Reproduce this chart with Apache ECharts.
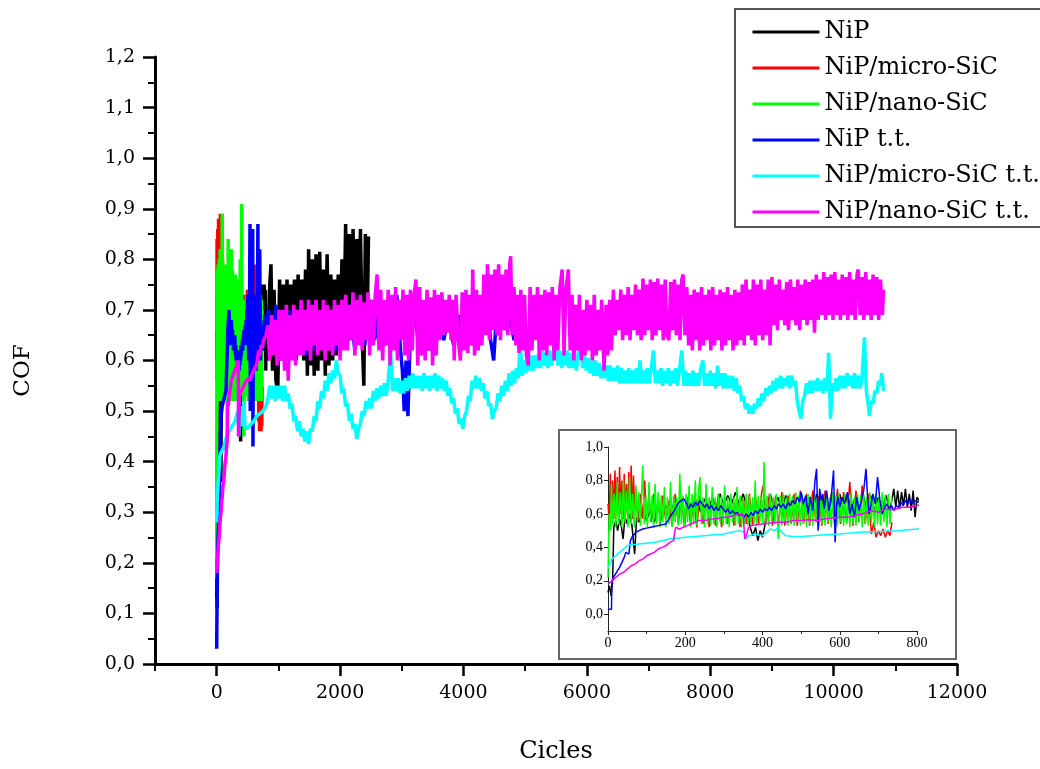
<!DOCTYPE html>
<html><head><meta charset="utf-8">
<script src="https://cdn.jsdelivr.net/npm/echarts@6/dist/echarts.min.js"></script>
<style>html,body{margin:0;padding:0;background:#fff}#c{width:1040px;height:769px}</style>
</head><body><div id="c"></div>
<script>
// ---------- data (cycles, COF) ----------
const seriesNames = ['NiP', 'NiP/micro-SiC', 'NiP/nano-SiC', 'NiP t.t.', 'NiP/micro-SiC t.t.', 'NiP/nano-SiC t.t.'];
const seriesColors = ['#000000', '#ff0000', '#00ff00', '#0000ff', '#00ffff', '#ff00ff'];
const xMajorTicks = [0, 2000, 4000, 6000, 8000, 10000, 12000];
const xMinorTicks = [-1000, 1000, 3000, 5000, 7000, 9000, 11000];
const insetYTicks = [0, 0.2, 0.4, 0.6, 0.8, 1.0];

const nip = [[0,0.13],[4,0.17],[8,0.11],[12,0.2],[15,0.52],[20,0.56],[25,0.5],[30,0.57],[35,0.52],[39,0.45],[44,0.58],[50,0.54],[56,0.6],[62,0.53],[69,0.36],[74,0.58],[80,0.55],[90,0.62],[100,0.56],[110,0.63],[120,0.55],[130,0.64],[140,0.57],[150,0.65],[160,0.58],[170,0.66],[180,0.59],[190,0.67],[200,0.6],[210,0.67],[220,0.6],[230,0.68],[240,0.61],[250,0.69],[260,0.62],[270,0.7],[280,0.64],[290,0.72],[300,0.65],[310,0.71],[320,0.66],[330,0.73],[340,0.65],[350,0.72],[360,0.64],[368,0.52],[375,0.47],[382,0.52],[388,0.44],[394,0.5],[400,0.46],[406,0.53],[412,0.65],[420,0.72],[430,0.64],[440,0.7],[450,0.62],[460,0.71],[470,0.63],[480,0.7],[490,0.62],[500,0.72],[510,0.63],[520,0.7],[530,0.61],[540,0.72],[550,0.63],[560,0.71],[570,0.62],[580,0.7],[590,0.63],[600,0.72],[610,0.62],[620,0.71],[630,0.63],[640,0.7],[650,0.62],[660,0.72],[670,0.63],[680,0.71],[690,0.62],[700,0.7],[710,0.63],[720,0.71],[730,0.62],[740,0.75],[745,0.64],[750,0.74],[755,0.63],[760,0.73],[765,0.65],[770,0.75],[775,0.64],[780,0.72],[785,0.62],[790,0.74],[795,0.58],[800,0.7],
[830,0.6],[860,0.75],[880,0.79],[905,0.58],[930,0.74],[960,0.56],[990,0.54],[1020,0.76],[1050,0.6],[1080,0.75],[1110,0.62],[1140,0.76],[1170,0.6],[1200,0.75],[1230,0.61],[1260,0.76],[1290,0.6],[1320,0.77],[1350,0.62],[1380,0.76],[1410,0.6],[1440,0.78],[1470,0.57],[1490,0.82],[1520,0.59],[1550,0.8],[1580,0.57],[1610,0.81],[1640,0.58],[1670,0.815],[1700,0.6],[1730,0.78],[1760,0.57],[1790,0.81],[1820,0.59],[1850,0.77],[1880,0.6],[1910,0.76],[1940,0.61],[1970,0.77],[2000,0.62],[2030,0.8],[2060,0.64],[2090,0.87],[2120,0.65],[2150,0.85],[2180,0.64],[2210,0.86],[2240,0.66],[2270,0.84],[2300,0.65],[2330,0.86],[2360,0.64],[2385,0.55],[2410,0.85],[2440,0.66],[2460,0.845]];

const nipMicro = [[0,0.66],[3,0.56],[6,0.84],[9,0.6],[12,0.8],[15,0.57],[18,0.86],[21,0.62],[24,0.82],[27,0.56],[30,0.88],[33,0.6],[36,0.8],[39,0.57],[42,0.84],[45,0.6],[48,0.78],[51,0.56],[54,0.85],[57,0.62],[60,0.89],[63,0.57],[66,0.83],[69,0.6],[72,0.75],[78,0.56],[84,0.72],[90,0.57],[95,0.8],[100,0.56],[106,0.7],[112,0.55],[118,0.72],[124,0.56],[130,0.69],[136,0.54],[142,0.71],[150,0.55],[158,0.68],[166,0.53],[174,0.72],[182,0.54],[190,0.69],[198,0.52],[206,0.7],[214,0.53],[222,0.68],[230,0.52],[238,0.71],[246,0.54],[254,0.69],[262,0.52],[270,0.7],[278,0.53],[286,0.72],[294,0.52],[302,0.7],[310,0.54],[318,0.69],[326,0.53],[334,0.71],[342,0.52],[350,0.7],[358,0.54],[366,0.72],[374,0.53],[382,0.7],[390,0.54],[398,0.73],[402,0.77],[410,0.55],[418,0.72],[426,0.53],[434,0.71],[442,0.54],[450,0.73],[458,0.53],[466,0.71],[474,0.54],[482,0.72],[490,0.53],[498,0.74],[506,0.54],[514,0.72],[522,0.53],[530,0.74],[538,0.55],[546,0.71],[554,0.53],[562,0.74],[570,0.54],[578,0.72],[586,0.55],[594,0.75],[602,0.54],[610,0.73],[618,0.55],[626,0.79],[634,0.53],[642,0.74],[650,0.55],[658,0.77],[666,0.54],[674,0.72],[682,0.48],[688,0.55],[694,0.46],[700,0.5],[706,0.47],[712,0.51],[718,0.46],[724,0.5],[730,0.47],[735,0.55]];

const nipNano = [[0,0.22],[3,0.6],[6,0.5],[9,0.78],[12,0.53],[16,0.72],[20,0.52],[24,0.79],[28,0.54],[32,0.73],[36,0.52],[40,0.8],[44,0.55],[48,0.74],[52,0.52],[56,0.82],[60,0.54],[64,0.72],[68,0.52],[72,0.77],[76,0.55],[80,0.73],[84,0.53],[90,0.89],[94,0.54],[98,0.7],[102,0.52],[106,0.79],[110,0.55],[114,0.71],[118,0.52],[122,0.78],[126,0.54],[130,0.73],[134,0.52],[138,0.71],[142,0.55],[146,0.76],[150,0.52],[154,0.7],[158,0.54],[162,0.79],[166,0.52],[170,0.71],[174,0.55],[178,0.7],[182,0.53],[186,0.84],[190,0.54],[194,0.71],[198,0.52],[202,0.72],[206,0.55],[210,0.77],[214,0.52],[218,0.72],[222,0.54],[226,0.8],[230,0.53],[234,0.72],[238,0.82],[242,0.54],[246,0.7],[250,0.52],[254,0.78],[258,0.54],[262,0.7],[266,0.53],[270,0.76],[274,0.54],[278,0.7],[282,0.52],[286,0.72],[290,0.55],[294,0.71],[298,0.53],[302,0.77],[306,0.54],[310,0.7],[314,0.52],[318,0.72],[322,0.55],[326,0.7],[330,0.53],[334,0.76],[338,0.54],[342,0.71],[346,0.52],[350,0.7],[354,0.54],[358,0.72],[362,0.53],[366,0.71],[370,0.55],[374,0.7],[378,0.54],[381,0.8],[385,0.53],[389,0.71],[393,0.55],[397,0.7],[401,0.54],[404,0.91],[408,0.55],[412,0.71],[416,0.53],[420,0.72],[424,0.55],[428,0.7],[432,0.54],[436,0.72],[441,0.45],[446,0.71],[450,0.53],[454,0.72],[458,0.55],[462,0.7],[466,0.53],[470,0.72],[474,0.54],[478,0.71],[482,0.53],[486,0.73],[490,0.55],[494,0.71],[498,0.53],[502,0.72],[506,0.54],[510,0.7],[514,0.52],[518,0.72],[522,0.54],[526,0.71],[530,0.53],[534,0.73],[538,0.55],[542,0.7],[546,0.52],[550,0.72],[554,0.54],[558,0.71],[562,0.53],[566,0.72],[570,0.55],[574,0.7],[578,0.52],[582,0.73],[586,0.54],[590,0.71],[594,0.53],[598,0.72],[602,0.55],[606,0.7],[610,0.53],[614,0.72],[618,0.54],[622,0.71],[626,0.52],[630,0.73],[634,0.54],[638,0.7],[642,0.53],[646,0.72],[650,0.55],[654,0.71],[658,0.52],[662,0.72],[666,0.54],[670,0.7],[674,0.53],[678,0.73],[682,0.55],[686,0.71],[690,0.52],[694,0.72],[698,0.54],[702,0.7],[706,0.53],[710,0.73],[714,0.55],[718,0.71],[722,0.52],[726,0.72],[730,0.54],[735,0.7]];

const nipTT = [[0,0.03],[5,0.03],[9,0.03],[10,0.2],[14,0.22],[18,0.23],[22,0.25],[26,0.26],[30,0.28],[34,0.3],[38,0.31],[42,0.34],[46,0.37],[50,0.38],[54,0.36],[58,0.44],[62,0.46],[66,0.47],[72,0.49],[80,0.5],[90,0.51],[100,0.515],[110,0.52],[120,0.525],[130,0.53],[140,0.535],[150,0.54],[155,0.56],[160,0.58],[166,0.6],[172,0.62],[178,0.65],[184,0.67],[190,0.68],[196,0.69],[200,0.7],[204,0.66],[208,0.63],[214,0.66],[220,0.64],[226,0.67],[232,0.65],[238,0.68],[244,0.66],[250,0.64],[256,0.66],[262,0.63],[268,0.65],[274,0.62],[280,0.64],[286,0.62],[292,0.65],[298,0.63],[304,0.61],[310,0.63],[316,0.6],[322,0.62],[328,0.6],[334,0.61],[340,0.59],[346,0.6],[352,0.58],[358,0.6],[364,0.58],[370,0.61],[376,0.59],[382,0.62],[388,0.6],[394,0.63],[400,0.61],[406,0.63],[412,0.62],[418,0.64],[424,0.62],[430,0.65],[436,0.63],[442,0.66],[448,0.64],[454,0.66],[460,0.63],[466,0.67],[472,0.65],[478,0.68],[484,0.66],[490,0.7],[496,0.67],[500,0.73],[506,0.66],[512,0.71],[518,0.6],[524,0.7],[530,0.62],[536,0.8],[540,0.87],[544,0.5],[548,0.75],[552,0.68],[556,0.72],[560,0.63],[566,0.74],[572,0.62],[578,0.7],[584,0.86],[588,0.43],[592,0.66],[596,0.7],[600,0.64],[606,0.7],[612,0.66],[620,0.73],[626,0.6],[632,0.66],[638,0.58],[644,0.7],[650,0.62],[656,0.68],[662,0.74],[668,0.87],[672,0.7],[676,0.6],[680,0.64],[686,0.72],[692,0.66],[698,0.82],[704,0.68],[710,0.6],[716,0.64],[722,0.66],[728,0.63],[734,0.65],[740,0.62],[746,0.65],[752,0.64],[758,0.67],[764,0.65],[770,0.68],[776,0.66],[782,0.69],[788,0.66],[794,0.68],[800,0.67],
[840,0.7],[900,0.63],[960,0.71],[1020,0.62],[1080,0.69],[1140,0.61],[1200,0.7],[1280,0.62],[1360,0.69],[1440,0.61],[1520,0.7],[1600,0.62],[1680,0.68],[1760,0.61],[1840,0.69],[1920,0.62],[2000,0.7],[2080,0.63],[2160,0.71],[2240,0.62],[2320,0.7],[2400,0.63],[2480,0.72],[2560,0.64],[2640,0.71],[2720,0.63],[2800,0.72],[2880,0.64],[2920,0.73],[2980,0.62],[3010,0.58],[3040,0.5],[3070,0.6],[3100,0.49],[3130,0.62],[3200,0.7],[3280,0.63],[3360,0.71],[3440,0.62],[3520,0.7],[3600,0.71],[3680,0.64],[3760,0.69],[3840,0.63],[3920,0.69],[4000,0.64],[4080,0.7],[4160,0.63],[4240,0.7],[4340,0.66],[4400,0.69],[4440,0.64],[4490,0.6],[4530,0.68],[4580,0.65],[4640,0.69],[4700,0.66],[4760,0.68],[4820,0.64],[4880,0.66],[4950,0.63],[5030,0.63],[5100,0.66],[5200,0.65]];

const nipMicroTT = [[0,0.28],[5,0.3],[10,0.33],[20,0.35],[30,0.37],[40,0.39],[50,0.41],[60,0.415],[80,0.42],[100,0.425],[120,0.43],[140,0.44],[160,0.45],[180,0.455],[200,0.46],[225,0.465],[250,0.47],[275,0.475],[300,0.48],[320,0.49],[340,0.5],[352,0.49],[358,0.45],[365,0.47],[380,0.48],[400,0.47],[410,0.49],[420,0.51],[432,0.5],[440,0.52],[450,0.49],[460,0.47],[480,0.465],[500,0.465],[530,0.47],[560,0.475],[600,0.48],[650,0.49],[700,0.495],[750,0.5],[800,0.51],
[830,0.525],[860,0.55],[890,0.525],[920,0.55],[950,0.52],[980,0.55],[1010,0.525],[1040,0.55],[1070,0.52],[1100,0.55],[1130,0.52],[1160,0.535],[1190,0.505],[1220,0.515],[1250,0.48],[1280,0.49],[1310,0.46],[1340,0.48],[1370,0.45],[1400,0.465],[1430,0.44],[1460,0.46],[1490,0.435],[1520,0.465],[1550,0.46],[1580,0.49],[1610,0.48],[1640,0.52],[1670,0.505],[1700,0.54],[1730,0.525],[1760,0.56],[1790,0.54],[1820,0.575],[1850,0.555],[1880,0.58],[1910,0.565],[1940,0.6],[1970,0.575],[2000,0.57],[2030,0.535],[2060,0.545],[2090,0.51],[2120,0.515],[2150,0.48],[2180,0.495],[2210,0.465],[2240,0.475],[2270,0.445],[2300,0.465],[2330,0.475],[2360,0.5],[2390,0.49],[2420,0.52],[2450,0.505],[2480,0.525],[2510,0.505],[2540,0.54],[2570,0.52],[2600,0.545],[2630,0.525],[2660,0.55],[2690,0.53],[2720,0.555],[2750,0.53],[2780,0.56],[2820,0.62],[2850,0.54],[2880,0.565],[2910,0.54],[2940,0.565],[2970,0.535],[3000,0.56],[3030,0.535],[3060,0.565],[3090,0.54],[3120,0.57],[3150,0.545],[3180,0.575],[3210,0.545],[3240,0.57],[3270,0.545],[3300,0.57],[3330,0.54],[3360,0.575],[3390,0.545],[3420,0.57],[3450,0.54],[3480,0.57],[3510,0.545],[3540,0.575],[3570,0.54],[3600,0.57],[3630,0.545],[3660,0.565],[3690,0.54],[3720,0.56],[3750,0.53],[3780,0.545],[3810,0.515],[3840,0.525],[3870,0.495],[3900,0.505],[3930,0.475],[3960,0.485],[3990,0.465],[4020,0.49],[4050,0.5],[4080,0.53],[4110,0.52],[4140,0.56],[4170,0.545],[4200,0.57],[4230,0.545],[4260,0.565],[4290,0.54],[4320,0.555],[4350,0.525],[4380,0.54],[4410,0.51],[4440,0.515],[4470,0.485],[4500,0.5],[4530,0.505],[4560,0.535],[4590,0.52],[4620,0.55],[4650,0.53],[4680,0.56],[4710,0.54],[4740,0.575],[4770,0.55],[4800,0.58],[4830,0.555],[4860,0.585],[4890,0.565],[4920,0.64],[4950,0.57],[4980,0.6],[5010,0.575],[5040,0.605],[5070,0.58],[5100,0.61],[5130,0.58],[5160,0.61],[5190,0.585],[5220,0.615],[5250,0.585],[5280,0.62],[5310,0.59],[5340,0.615],[5370,0.585],[5400,0.62],[5430,0.59],[5460,0.615],[5500,0.66],[5530,0.59],[5560,0.62],[5590,0.585],[5620,0.615],[5650,0.59],[5680,0.62],[5710,0.585],[5740,0.615],[5770,0.585],[5800,0.61],[5830,0.58],[5860,0.615],[5900,0.655],[5930,0.585],[5960,0.61],[5990,0.58],[6020,0.605],[6050,0.575],[6080,0.6],[6110,0.57],[6140,0.6],[6170,0.57],[6200,0.595],[6230,0.565],[6260,0.59],[6290,0.565],[6320,0.59],[6350,0.56],[6380,0.59],[6410,0.56],[6440,0.585],[6470,0.56],[6500,0.59],[6530,0.555],[6560,0.585],[6590,0.555],[6620,0.58],[6650,0.555],[6680,0.585],[6710,0.555],[6740,0.58],[6770,0.555],[6800,0.585],[6830,0.555],[6860,0.6],[6890,0.555],[6920,0.58],[6950,0.555],[6980,0.585],[7010,0.555],[7040,0.58],[7080,0.62],[7110,0.555],[7140,0.58],[7170,0.555],[7200,0.585],[7230,0.55],[7260,0.58],[7290,0.555],[7320,0.585],[7350,0.55],[7380,0.58],[7410,0.555],[7440,0.585],[7470,0.55],[7500,0.58],[7540,0.62],[7570,0.55],[7600,0.58],[7630,0.55],[7660,0.575],[7690,0.55],[7720,0.58],[7750,0.55],[7780,0.575],[7810,0.55],[7840,0.58],[7880,0.6],[7910,0.55],[7940,0.575],[7970,0.55],[8000,0.58],[8030,0.55],[8060,0.575],[8090,0.545],[8120,0.59],[8150,0.55],[8180,0.575],[8210,0.545],[8240,0.575],[8270,0.545],[8300,0.57],[8330,0.545],[8360,0.57],[8390,0.54],[8420,0.565],[8450,0.535],[8480,0.55],[8510,0.52],[8540,0.53],[8570,0.505],[8600,0.515],[8630,0.495],[8660,0.51],[8690,0.495],[8720,0.515],[8750,0.505],[8780,0.525],[8810,0.51],[8840,0.535],[8870,0.52],[8900,0.545],[8930,0.53],[8960,0.55],[8990,0.535],[9020,0.56],[9050,0.54],[9080,0.565],[9110,0.545],[9140,0.57],[9170,0.545],[9200,0.565],[9230,0.55],[9260,0.57],[9290,0.545],[9320,0.57],[9350,0.55],[9380,0.56],[9410,0.52],[9440,0.5],[9470,0.485],[9500,0.52],[9530,0.53],[9560,0.555],[9590,0.535],[9620,0.56],[9650,0.535],[9680,0.56],[9710,0.54],[9740,0.565],[9770,0.54],[9800,0.56],[9830,0.535],[9860,0.565],[9890,0.54],[9920,0.615],[9950,0.485],[9980,0.555],[10010,0.54],[10040,0.565],[10070,0.54],[10100,0.57],[10130,0.545],[10160,0.57],[10190,0.545],[10220,0.575],[10250,0.55],[10280,0.57],[10310,0.545],[10340,0.575],[10370,0.545],[10400,0.57],[10430,0.545],[10460,0.565],[10500,0.646],[10530,0.54],[10560,0.515],[10580,0.49],[10610,0.52],[10640,0.515],[10670,0.54],[10700,0.535],[10730,0.56],[10760,0.55],[10780,0.575],[10810,0.54]];

const nipNanoTT = [[0,0.18],[5,0.19],[10,0.2],[20,0.22],[30,0.24],[40,0.25],[50,0.27],[60,0.29],[70,0.3],[80,0.32],[90,0.33],[100,0.35],[110,0.36],[120,0.37],[130,0.39],[140,0.4],[150,0.41],[160,0.43],[170,0.44],[173,0.5],[176,0.52],[185,0.51],[195,0.52],[205,0.53],[215,0.54],[225,0.55],[235,0.56],[250,0.56],[265,0.57],[280,0.57],[295,0.58],[310,0.58],[325,0.59],[340,0.595],[350,0.6],[354,0.45],[358,0.47],[364,0.52],[372,0.53],[385,0.535],[400,0.54],[420,0.545],[440,0.55],[460,0.55],[480,0.56],[500,0.56],[520,0.565],[540,0.56],[560,0.57],[580,0.575],[600,0.58],[620,0.58],[640,0.59],[660,0.6],[680,0.62],[700,0.61],[720,0.63],[740,0.625],[760,0.64],[780,0.64],[800,0.65],
[830,0.67],[860,0.6],[890,0.69],[920,0.61],[950,0.68],[980,0.59],[1010,0.7],[1040,0.6],[1070,0.7],[1100,0.58],[1130,0.71],[1160,0.56],[1190,0.69],[1220,0.6],[1250,0.71],[1280,0.59],[1310,0.7],[1340,0.61],[1370,0.72],[1400,0.61],[1430,0.7],[1460,0.62],[1490,0.72],[1520,0.6],[1550,0.71],[1580,0.63],[1610,0.72],[1640,0.61],[1670,0.7],[1700,0.62],[1730,0.72],[1760,0.6],[1790,0.71],[1820,0.62],[1850,0.7],[1880,0.61],[1910,0.72],[1940,0.63],[1970,0.71],[2000,0.6],[2030,0.72],[2060,0.62],[2090,0.73],[2120,0.62],[2150,0.71],[2180,0.64],[2210,0.735],[2240,0.61],[2270,0.72],[2300,0.63],[2330,0.73],[2360,0.62],[2390,0.715],[2420,0.64],[2450,0.735],[2480,0.61],[2510,0.72],[2540,0.63],[2570,0.73],[2600,0.77],[2630,0.62],[2660,0.74],[2690,0.6],[2720,0.72],[2750,0.63],[2780,0.74],[2810,0.59],[2840,0.73],[2870,0.62],[2900,0.745],[2930,0.6],[2960,0.72],[2990,0.64],[3020,0.74],[3050,0.61],[3080,0.73],[3110,0.6],[3140,0.74],[3170,0.62],[3200,0.73],[3230,0.76],[3260,0.59],[3290,0.745],[3320,0.61],[3350,0.72],[3380,0.6],[3410,0.74],[3440,0.62],[3470,0.725],[3500,0.59],[3530,0.74],[3560,0.61],[3590,0.73],[3620,0.64],[3650,0.735],[3680,0.65],[3710,0.72],[3740,0.655],[3770,0.73],[3800,0.64],[3830,0.72],[3850,0.6],[3880,0.73],[3910,0.65],[3950,0.6],[3980,0.735],[4010,0.62],[4040,0.74],[4070,0.615],[4100,0.73],[4130,0.63],[4150,0.78],[4180,0.61],[4210,0.74],[4240,0.62],[4270,0.73],[4300,0.63],[4330,0.77],[4360,0.65],[4390,0.79],[4420,0.64],[4450,0.77],[4480,0.66],[4510,0.78],[4540,0.65],[4570,0.79],[4600,0.64],[4630,0.77],[4660,0.66],[4690,0.78],[4720,0.65],[4750,0.79],[4765,0.806],[4790,0.65],[4820,0.745],[4850,0.63],[4880,0.73],[4900,0.615],[4930,0.74],[4960,0.62],[4990,0.73],[5020,0.61],[5050,0.59],[5080,0.745],[5110,0.62],[5140,0.73],[5170,0.64],[5200,0.745],[5230,0.6],[5260,0.73],[5290,0.62],[5320,0.74],[5350,0.61],[5380,0.735],[5410,0.63],[5440,0.745],[5470,0.6],[5500,0.73],[5530,0.62],[5560,0.74],[5600,0.78],[5630,0.61],[5660,0.74],[5700,0.78],[5730,0.62],[5760,0.73],[5790,0.6],[5820,0.71],[5850,0.62],[5880,0.73],[5910,0.6],[5940,0.7],[5970,0.61],[6000,0.72],[6030,0.62],[6060,0.71],[6090,0.6],[6120,0.73],[6150,0.61],[6180,0.7],[6210,0.62],[6240,0.72],[6280,0.58],[6310,0.71],[6340,0.61],[6370,0.72],[6400,0.62],[6430,0.74],[6460,0.65],[6490,0.72],[6520,0.66],[6550,0.74],[6580,0.64],[6610,0.73],[6640,0.65],[6670,0.745],[6700,0.64],[6730,0.73],[6760,0.66],[6790,0.75],[6820,0.65],[6850,0.74],[6880,0.64],[6910,0.762],[6940,0.65],[6970,0.75],[7000,0.66],[7030,0.76],[7060,0.64],[7090,0.755],[7120,0.65],[7150,0.762],[7180,0.66],[7210,0.75],[7240,0.64],[7270,0.76],[7300,0.65],[7330,0.64],[7360,0.755],[7390,0.66],[7420,0.76],[7450,0.65],[7480,0.75],[7510,0.64],[7540,0.76],[7560,0.77],[7590,0.65],[7620,0.745],[7650,0.63],[7680,0.73],[7710,0.62],[7740,0.74],[7770,0.64],[7800,0.735],[7830,0.62],[7860,0.745],[7890,0.63],[7920,0.73],[7950,0.64],[7980,0.74],[8010,0.62],[8040,0.745],[8070,0.63],[8100,0.73],[8130,0.64],[8160,0.74],[8190,0.62],[8220,0.735],[8250,0.63],[8280,0.745],[8310,0.64],[8340,0.73],[8370,0.62],[8400,0.74],[8430,0.63],[8460,0.735],[8490,0.64],[8520,0.75],[8550,0.63],[8580,0.76],[8610,0.65],[8640,0.74],[8670,0.64],[8700,0.76],[8730,0.63],[8760,0.75],[8790,0.65],[8820,0.76],[8850,0.64],[8880,0.74],[8910,0.65],[8940,0.76],[8970,0.63],[9000,0.765],[9030,0.67],[9060,0.75],[9090,0.66],[9120,0.76],[9150,0.68],[9180,0.74],[9210,0.67],[9240,0.755],[9270,0.66],[9300,0.76],[9330,0.68],[9360,0.745],[9390,0.67],[9420,0.76],[9450,0.66],[9480,0.75],[9510,0.68],[9540,0.76],[9570,0.67],[9600,0.755],[9630,0.68],[9660,0.76],[9690,0.655],[9720,0.77],[9750,0.68],[9780,0.76],[9810,0.69],[9840,0.775],[9870,0.68],[9900,0.765],[9930,0.69],[9960,0.77],[9990,0.68],[10020,0.775],[10050,0.69],[10080,0.76],[10110,0.68],[10140,0.77],[10170,0.69],[10200,0.765],[10230,0.68],[10260,0.775],[10290,0.69],[10320,0.76],[10350,0.68],[10380,0.77],[10400,0.78],[10430,0.69],[10460,0.765],[10490,0.68],[10520,0.775],[10550,0.69],[10580,0.76],[10610,0.68],[10640,0.77],[10670,0.69],[10700,0.765],[10730,0.68],[10760,0.76],[10790,0.69],[10810,0.74]];

const allData = [nip, nipMicro, nipNano, nipTT, nipMicroTT, nipNanoTT];

// ---------- chart ----------
const FONT = 'DejaVu Serif';
const comma = v => (Math.round(v * 10) / 10).toFixed(1).replace('.', ',');
const plain = v => String(v);
const chart = echarts.init(document.getElementById('c'), null, {renderer: 'canvas'});

const mainSeries = allData.map((d, i) => ({
  name: seriesNames[i], type: 'line', data: d, xAxisIndex: 0, yAxisIndex: 0,
  symbol: 'none', showSymbol: false, sampling: null, silent: true,
  color: seriesColors[i], lineStyle: {color: seriesColors[i], width: 3.5, join: 'bevel'},
  z: 2
}));
const insetSeries = allData.map((d, i) => ({
  name: seriesNames[i], type: 'line', data: d, xAxisIndex: 2, yAxisIndex: 1,
  symbol: 'none', showSymbol: false, clip: true, silent: true,
  color: seriesColors[i], lineStyle: {color: seriesColors[i], width: 1.5, join: 'bevel'},
  z: 6
}));

chart.setOption({
  animation: false,
  backgroundColor: '#ffffff',
  grid: [
    {left: 155, right: 83, top: 57, bottom: 103},
    {left: 608, right: 123, top: 447, bottom: 138}
  ],
  legend: {
    data: seriesNames, orient: 'vertical', left: 735, top: 9,
    itemWidth: 67, itemHeight: 24, itemGap: 12,
    padding: [11, 30, 3, 16],
    borderColor: '#555', borderWidth: 2, backgroundColor: '#ffffff',
    itemStyle: {opacity: 0, borderWidth: 0},
    lineStyle: {width: 3, opacity: 1},
    textStyle: {fontFamily: FONT, fontSize: 24, color: '#000', lineHeight: 24},
    selectedMode: false, z: 10
  },
  xAxis: [
    {
      gridIndex: 0, type: 'value', min: -1000, max: 12000, interval: 1000,
      name: 'Cicles', nameLocation: 'middle', nameGap: 76,
      nameTextStyle: {fontFamily: FONT, fontSize: 24, color: '#000'},
      axisLine: {show: true, onZero: false, lineStyle: {color: '#000', width: 3}},
      axisTick: {show: true, customValues: xMajorTicks, length: 12, lineStyle: {color: '#000', width: 2.5}},
      axisLabel: {show: true, customValues: xMajorTicks, margin: 20, fontFamily: FONT, fontSize: 19, color: '#000', formatter: plain},
      splitLine: {show: false}
    },
    {
      gridIndex: 0, type: 'value', min: -1000, max: 12000, interval: 1000, position: 'bottom',
      axisLine: {show: false},
      axisTick: {show: true, customValues: xMinorTicks, length: 7, lineStyle: {color: '#000', width: 2}},
      axisLabel: {show: false}, splitLine: {show: false}
    },
    {
      gridIndex: 1, type: 'value', min: 0, max: 800, interval: 200,
      axisLine: {show: true, onZero: false, lineStyle: {color: '#222', width: 1}},
      axisTick: {show: true, length: 4, lineStyle: {color: '#222', width: 1}},
      minorTick: {show: true, splitNumber: 2, length: 3, lineStyle: {color: '#222', width: 1}},
      axisLabel: {margin: 5, fontFamily: 'Liberation Serif', fontSize: 14, color: '#000', formatter: plain},
      splitLine: {show: false}
    }
  ],
  yAxis: [
    {
      gridIndex: 0, type: 'value', min: 0, max: 1.2, interval: 0.1,
      name: 'COF', nameLocation: 'middle', nameGap: 120, nameRotate: 90,
      nameTextStyle: {fontFamily: FONT, fontSize: 23, color: '#000', padding: [0, 20, 0, 0]},
      axisLine: {show: true, onZero: false, lineStyle: {color: '#000', width: 3}},
      axisTick: {show: true, length: 12, lineStyle: {color: '#000', width: 2.5}},
      minorTick: {show: true, splitNumber: 2, length: 7, lineStyle: {color: '#000', width: 2}},
      axisLabel: {margin: 20, fontFamily: FONT, fontSize: 19, color: '#000', formatter: comma},
      splitLine: {show: false}
    },
    {
      gridIndex: 1, type: 'value', min: -0.1, max: 1.0, interval: 0.1,
      axisLine: {show: true, onZero: false, lineStyle: {color: '#222', width: 1}},
      axisTick: {show: true, customValues: insetYTicks, length: 4, lineStyle: {color: '#222', width: 1}},
      axisLabel: {customValues: insetYTicks, margin: 5, fontFamily: 'Liberation Serif', fontSize: 14, color: '#000', formatter: comma},
      splitLine: {show: false}
    }
  ],
  graphic: [
    {type: 'rect', left: 558, top: 429, z: -5, silent: true,
     shape: {width: 397, height: 229},
     style: {fill: '#ffffff', stroke: '#666', lineWidth: 2}}
  ],
  series: mainSeries.concat(insetSeries)
});
</script>
</body></html>
